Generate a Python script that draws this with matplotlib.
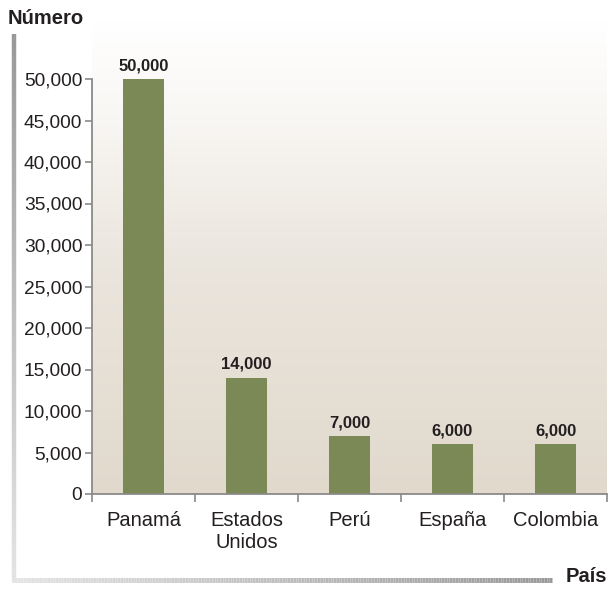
import matplotlib
matplotlib.use('Agg')
import matplotlib.pyplot as plt
import matplotlib.colors as mcolors
from matplotlib.collections import LineCollection
import numpy as np

# data
paises = ['Panamá', 'Estados\nUnidos', 'Perú', 'España', 'Colombia']
numero = [50000, 14000, 7000, 6000, 6000]
y_ticks = [0, 5000, 10000, 15000, 20000, 25000, 30000, 35000, 40000, 45000, 50000]

W, H = 608, 589
fig = plt.figure(figsize=(W / 100, H / 100), dpi=100)

# plot area in pixel coords of the reference
left, right, top, bottom = 92, 607, 20, 494
ax = fig.add_axes([left / W, 1 - bottom / H, (right - left) / W, (bottom - top) / H])

px_per_unit = (494 - 79) / 50000
ymax = (bottom - top) / px_per_unit
ax.set_xlim(-0.5, len(paises) - 0.5)
ax.set_ylim(0, ymax)

# vertical gradient background, white on top, beige at the bottom
grad_cmap = mcolors.LinearSegmentedColormap.from_list(
    'bg', [(0.0, '#e1d9cc'), (0.5, '#ebe6de'), (0.8, '#f9f7f4'), (1.0, '#ffffff')])
grad = np.linspace(0, 1, 256).reshape(-1, 1)
ax.imshow(grad, cmap=grad_cmap, origin='lower', aspect='auto',
          extent=[-0.5, len(paises) - 0.5, 0, ymax], zorder=0)

x = np.arange(len(paises))
ax.bar(x, numero, width=0.4, color='#7b8957', zorder=2)

for xi, v in zip(x, numero):
    ax.text(xi, v + 700, f'{v:,}', ha='center', va='bottom', fontsize=12,
            fontweight='bold', color='#231f20', family='Liberation Sans')

for s in ['top', 'right']:
    ax.spines[s].set_visible(False)
ax.spines['left'].set_bounds(0, 50000)
ax.spines['left'].set_color('#8a8a8a')
ax.spines['bottom'].set_color('#8a8a8a')
ax.spines['left'].set_linewidth(1.3)
ax.spines['bottom'].set_linewidth(1.3)

ax.set_yticks(y_ticks)
ax.set_yticklabels([f'{t:,}' for t in y_ticks], fontsize=13.8, color='#231f20',
                   family='Liberation Sans')
ax.tick_params(axis='y', length=5, width=1.2, color='#8a8a8a', pad=2)

ax.set_xticks(np.arange(-0.5, len(paises)), labels=[])
ax.set_xticks(x, labels=paises, minor=True)
ax.tick_params(axis='x', which='major', length=6, width=1.2, color='#8a8a8a', direction='out')
ax.tick_params(axis='x', which='minor', length=0, pad=12, labelsize=14.5, labelcolor='#231f20')
for lbl in ax.get_xticklabels(minor=True):
    lbl.set_family('Liberation Sans')
    lbl.set_linespacing(1.2)

# overlay for the grey frame lines and axis titles
ov = fig.add_axes([0, 0, 1, 1], zorder=-1)
ov.set_xlim(0, W)
ov.set_ylim(H, 0)
ov.axis('off')

n = 200
frame_cmap = mcolors.LinearSegmentedColormap.from_list('frame', ['#999999', '#e4e4e4'])
ys = np.linspace(34, 582, n + 1)
segs = [[(14, ys[i]), (14, ys[i + 1])] for i in range(n)]
ov.add_collection(LineCollection(segs, colors=frame_cmap(np.linspace(0, 1, n)),
                                 linewidths=3.2))

xs = np.linspace(12, 552, n + 1)
segs = [[(xs[i], 579.5), (xs[i + 1], 579.5)] for i in range(n)]
ov.add_collection(LineCollection(segs, colors=frame_cmap(np.linspace(1, 0, n)),
                                 linewidths=3.6))

fig.text(8 / W, 1 - 18 / H, 'Número', fontsize=14.5, fontweight='bold', color='#231f20',
         va='center', ha='left', family='Liberation Sans')
fig.text(607 / W, 1 - 577 / H, 'País', fontsize=14.5, fontweight='bold', color='#231f20',
         va='center', ha='right', family='Liberation Sans')

fig.savefig('out.png', dpi=100, facecolor='white')
